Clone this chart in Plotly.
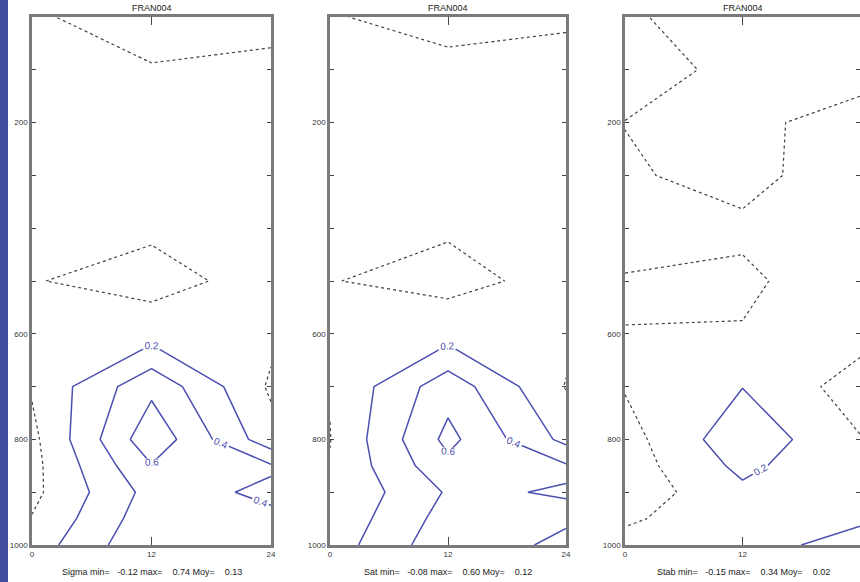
import plotly.graph_objects as go

# ---------------- data ----------------
HOURS = [0, 12, 24]
PRESSURE = [0, 100, 200, 300, 400, 500, 600, 700, 800, 850, 900, 950, 1000]

# rows follow PRESSURE, columns follow HOURS
SIGMA = [
    [0.03, -0.12, -0.06],
    [0.05, 0.018, 0.043],
    [0.08, 0.07, 0.09],
    [0.09, 0.08, 0.10],
    [0.05, 0.034, 0.08],
    [0.0097, -0.073, 0.079],
    [0.06, 0.11, 0.05],
    [0.02, 0.55, -0.03],
    [-0.05, 0.74, 0.075],
    [-0.06, 0.59, 0.42],
    [-0.05, 0.47, 0.37],
    [0.01, 0.52, 0.43],
    [0.092, 0.574, 0.45],
]
SAT = [
    [0.015, -0.08, -0.05],
    [0.05, 0.06, 0.12],
    [0.08, 0.07, 0.09],
    [0.09, 0.08, 0.10],
    [0.05, 0.021, 0.07],
    [0.0067, -0.06, 0.065],
    [0.06, 0.118, 0.05],
    [0.01, 0.52, -0.01],
    [-0.005, 0.655, 0.144],
    [0.01, 0.549, 0.42],
    [0.007, 0.421, 0.39],
    [0.046, 0.48, 0.43],
    [0.0925, 0.537, 0.35],
]
STAB = [
    [0.026, -0.10, -0.08],
    [0.0967, -0.06, -0.05],
    [-0.004, -0.029, 0.05],
    [0.025, -0.07, 0.135],
    [0.057, 0.04, 0.12],
    [-0.01, -0.04, 0.138],
    [0.002, 0.0133, 0.08],
    [0.014, 0.1957, -0.098],
    [-0.08, 0.34, 0.011],
    [-0.10, 0.25, 0.015],
    [-0.124, 0.158, 0.02],
    [-0.03, 0.13, 0.16],
    [0.067, 0.10, 0.30],
]
PANELS = [SIGMA, SAT, STAB]
TITLES = ["FRAN004", "FRAN004", "FRAN004"]
STATS = [
    "Sigma min=   -0.12 max=    0.74 Moy=    0.13",
    "Sat min=   -0.08 max=    0.60 Moy=    0.12",
    "Stab min=   -0.15 max=    0.34 Moy=    0.02",
]
Y_TICK_VALUES = [0, 100, 200, 300, 400, 500, 600, 700, 800, 900, 1000]
Y_TICK_LABELS = ["", "", "200", "", "", "", "600", "", "800", "", "1000"]
X_TICK_VALUES = [0, 12, 24]
X_TICK_LABELS = [["0", "12", "24"], ["0", "12", "24"], ["0", "12", ""]]
POS_LEVELS = dict(start=0.2, end=0.8, size=0.2)

# ---------------- layout geometry ----------------
W, H = 860, 582
X_DOMAINS = [(32 / W, 271 / W), (330 / W, 566 / W), (625 / W, 1.0)]
Y_DOMAIN = (1 - 545 / H, 1 - 17 / H)

BLUE = "#4b4fb0"
FRAME = "#7a7a7a"

fig = go.Figure()
layout = dict(
    width=W, height=H,
    margin=dict(l=0, r=0, t=0, b=0, autoexpand=False),
    paper_bgcolor="white", plot_bgcolor="white",
    showlegend=False,
    font=dict(family="Liberation Sans, Arial, sans-serif", size=8, color="#333"),
    annotations=[],
    shapes=[dict(type="rect", xref="paper", yref="paper", x0=0, x1=8 / W, y0=0, y1=1,
                 fillcolor="#3f4e9e", line=dict(width=0), layer="below")],
)

for i, z in enumerate(PANELS):
    n = "" if i == 0 else str(i + 1)
    xa, ya = "x" + n, "y" + n
    # zero contour, dotted black
    fig.add_trace(go.Contour(
        x=HOURS, y=PRESSURE, z=z, xaxis=xa, yaxis=ya,
        contours=dict(start=-1, end=0, size=1, coloring="none", showlabels=False),
        line=dict(color="#404040", width=1.2, dash="dot", smoothing=0),
        showscale=False, hoverinfo="skip",
    ))
    # positive contours, blue solid with labels
    fig.add_trace(go.Contour(
        x=HOURS, y=PRESSURE, z=z, xaxis=xa, yaxis=ya,
        contours=dict(coloring="none", showlabels=True, labelformat=".1f",
                      labelfont=dict(size=10, color=BLUE), **POS_LEVELS),
        line=dict(color=BLUE, width=1.5, smoothing=0),
        showscale=False, hoverinfo="skip",
    ))
    layout["xaxis" + n] = dict(
        domain=X_DOMAINS[i], anchor=ya, range=[0, 24], automargin=False,
        tickvals=X_TICK_VALUES, ticktext=X_TICK_LABELS[i],
        ticks="inside", ticklen=8, tickcolor="#444", mirror="ticks",
        showline=True, linecolor=FRAME, linewidth=2.5,
        showgrid=False, zeroline=False, tickfont=dict(size=8, color="#333"),
    )
    layout["yaxis" + n] = dict(
        domain=Y_DOMAIN, anchor=xa, range=[1000, 0], automargin=False,
        tickvals=Y_TICK_VALUES, ticktext=Y_TICK_LABELS,
        ticks="inside", ticklen=4, tickcolor="#444", mirror="ticks",
        showline=True, linecolor=FRAME, linewidth=2.5,
        showgrid=False, zeroline=False, tickfont=dict(size=8, color="#333"),
    )
    cx = (X_DOMAINS[i][0] + X_DOMAINS[i][1]) / 2
    if i == 2:
        cx = (625 + 861) / 2 / W
    layout["annotations"].append(dict(
        text=TITLES[i], x=cx, y=1 - 8 / H, xref="paper", yref="paper",
        showarrow=False, xanchor="center", yanchor="middle",
        font=dict(size=9, color="#222")))
    layout["annotations"].append(dict(
        text=STATS[i].replace(" ", "&nbsp;"), x=cx, y=1 - 572 / H, xref="paper", yref="paper",
        showarrow=False, xanchor="center", yanchor="middle",
        font=dict(size=9, color="#222")))

fig.update_layout(**layout)
fig.write_html("out.html", config={"displayModeBar": False},
               post_script="document.body.style.margin='0';document.body.style.overflow='hidden';")
